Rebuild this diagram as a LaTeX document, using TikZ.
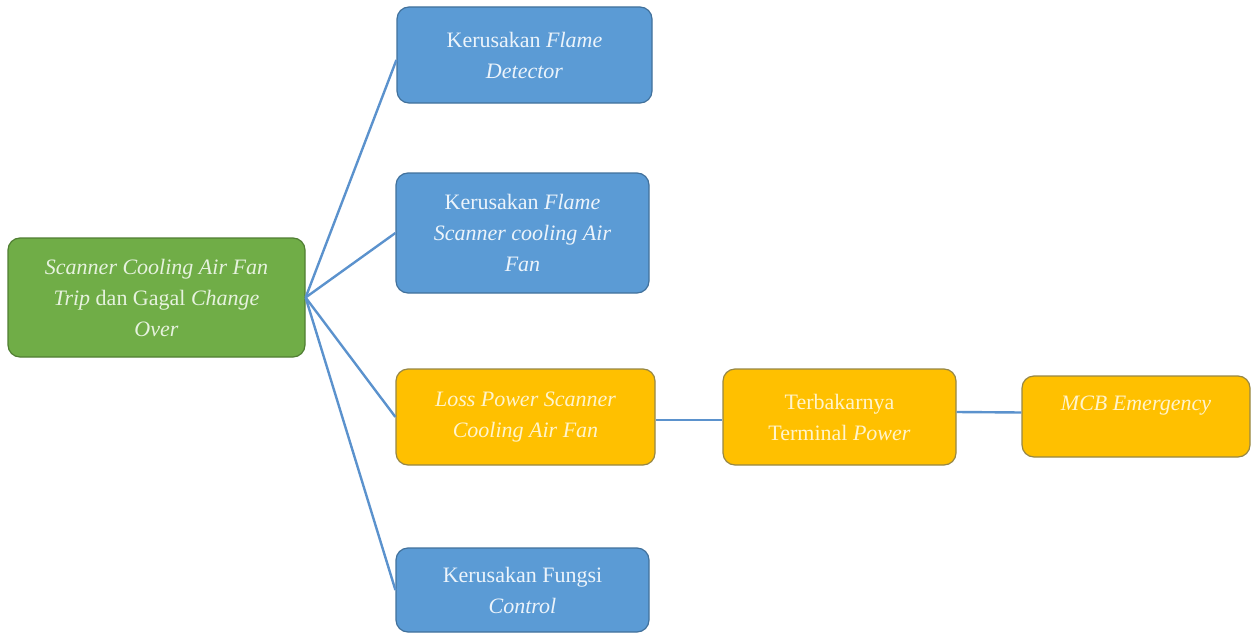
\documentclass[tikz,border=0pt]{standalone}
\usepackage{fontspec}
\setmainfont{Liberation Serif}
\begin{document}
\begin{tikzpicture}[x=1pt,y=-1pt,
  box/.style={rounded corners=12pt, line width=1.2pt, align=center, inner sep=2pt,
    font=\fontsize{22}{31}\selectfont},
  gbox/.style={box, fill={rgb,255:red,112;green,173;blue,71}, draw={rgb,255:red,80;green,126;blue,50}, text={rgb,255:red,230;green,242;blue,222}},
  bbox/.style={box, fill={rgb,255:red,91;green,155;blue,213}, draw={rgb,255:red,65;green,113;blue,156}, text={rgb,255:red,236;green,244;blue,251}},
  obox/.style={box, fill={rgb,255:red,255;green,192;blue,0}, draw={rgb,255:red,150;green,135;blue,70}, text={rgb,255:red,255;green,244;blue,204}},
  conn/.style={draw={rgb,255:red,91;green,146;blue,205}, line width=2.4pt}]
\useasboundingbox (0,0) rectangle (1252,634);
\node[gbox, minimum width=297pt, minimum height=119pt] (root) at (156.5,297.5)
  {\textit{Scanner Cooling Air Fan}\\\textit{Trip} dan Gagal \textit{Change}\\\textit{Over}};
\node[bbox, minimum width=255pt, minimum height=96pt] (b1) at (524.5,55)
  {Kerusakan \textit{Flame}\\\textit{Detector}};
\node[bbox, minimum width=253pt, minimum height=120pt] (b2) at (522.5,233)
  {Kerusakan \textit{Flame}\\\textit{Scanner cooling Air}\\\textit{Fan}};
\node[obox, minimum width=259pt, minimum height=96pt] (o1) at (525.5,417)
  {\textit{Loss Power Scanner}\\\textit{Cooling Air Fan}};
\node[obox, minimum width=233pt, minimum height=96pt] (o2) at (839.5,417)
  {Terbakarnya\\Terminal \textit{Power}};
\node[obox, minimum width=228pt, minimum height=81pt, text depth=26pt] (o3) at (1136,416.5)
  {\textit{MCB Emergency}};
\node[bbox, minimum width=253pt, minimum height=84pt] (b3) at (522.5,590)
  {Kerusakan Fungsi\\\textit{Control}};
\path[conn] (root.east) -- ([yshift=-5pt]b1.west);
\path[conn] (root.east) -- (b2.west);
\path[conn] (root.east) -- (o1.west);
\path[conn] (root.east) -- (b3.west);
\path[conn] ([yshift=-3pt]o1.east) -- ([yshift=-3pt]o2.west);
\path[conn] ([yshift=5pt]o2.east) -- ([yshift=4pt]o3.west);
\end{tikzpicture}
\end{document}
